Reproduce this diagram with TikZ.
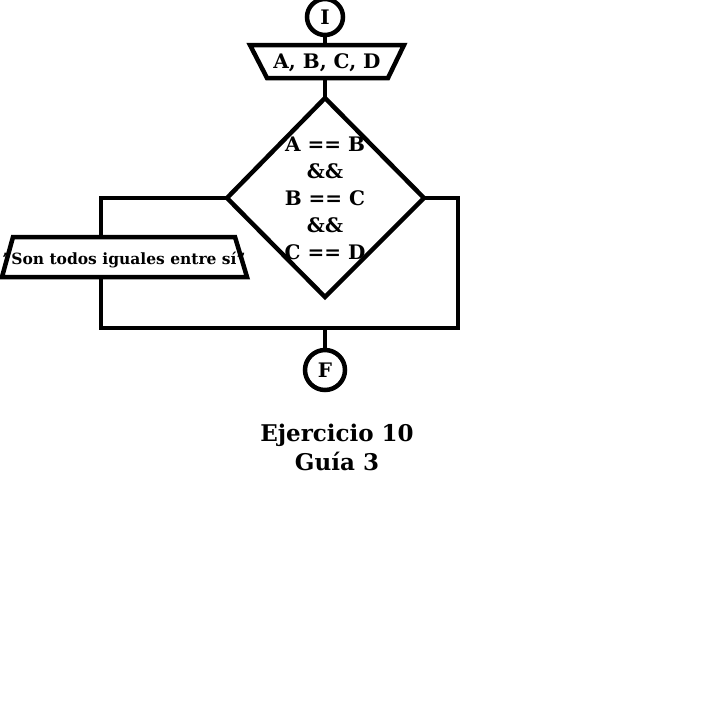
\documentclass[tikz,border=0pt]{standalone}
\usepackage{fontspec}
\setmainfont{DejaVu Serif}
\usetikzlibrary{shapes.geometric}
\begin{document}
\begin{tikzpicture}[x=1pt,y=-1pt,
  ln/.style={line width=4.5pt,line join=miter},
  lbl/.style={font=\bfseries\fontsize{20}{27}\selectfont,inner sep=0pt,align=center},
  term/.style={circle,draw,line width=4.5pt,minimum size=36pt,inner sep=0pt,font=\bfseries\fontsize{20}{24}\selectfont}]
\useasboundingbox (0,0) rectangle (704,704);
% start
\node[term] (ini) at (325,17) {I};
% input trapezoid
\coordinate (inTL) at (250,45);
\coordinate (inTR) at (404,45);
\coordinate (inBR) at (388,78);
\coordinate (inBL) at (267,78);
\draw[ln] (inTL) -- (inTR) -- (inBR) -- (inBL) -- cycle;
\node[lbl] (inp) at (327,63) {A, B, C, D};
\coordinate (inT) at (325,45);
\coordinate (inB) at (325,78);
\draw[ln] (ini.south) -- (inT);
% decision diamond
\coordinate (dT) at (325,98);
\coordinate (dR) at (424,198);
\coordinate (dB) at (325,297);
\coordinate (dL) at (227,198);
\draw[ln] (dT) -- (dR) -- (dB) -- (dL) -- cycle;
\node[lbl] (cond) at (325,198) {A == B\\\&\&\\B == C\\\&\&\\C == D};
\draw[ln] (inB) -- (dT);
% output trapezoid
\coordinate (oTL) at (13,237);
\coordinate (oTR) at (235,237);
\coordinate (oBR) at (247,277);
\coordinate (oBL) at (2,277);
\draw[ln] (oTL) -- (oTR) -- (oBR) -- (oBL) -- cycle;
\node[font=\bfseries\fontsize{15.5}{18}\selectfont,inner sep=0pt] (out) at (124,260) {"Son todos iguales entre sí"};
\coordinate (oT) at (101,237);
\coordinate (oB) at (101,277);
% branches
\coordinate (join) at (325,328);
\draw[ln] (dL) -- (101,198) -- (oT);
\draw[ln] (oB) -- (101,328) -- (458,328) -- (458,198) -- (dR);
% end
\node[term,minimum size=40pt] (fin) at (325,370) {F};
\draw[ln] (join) -- (fin.north);
% caption
\node[font=\bfseries\fontsize{23}{29}\selectfont,inner sep=0pt,align=center] (cap) at (337,447) {Ejercicio 10\\Guía 3};
\end{tikzpicture}
\end{document}
